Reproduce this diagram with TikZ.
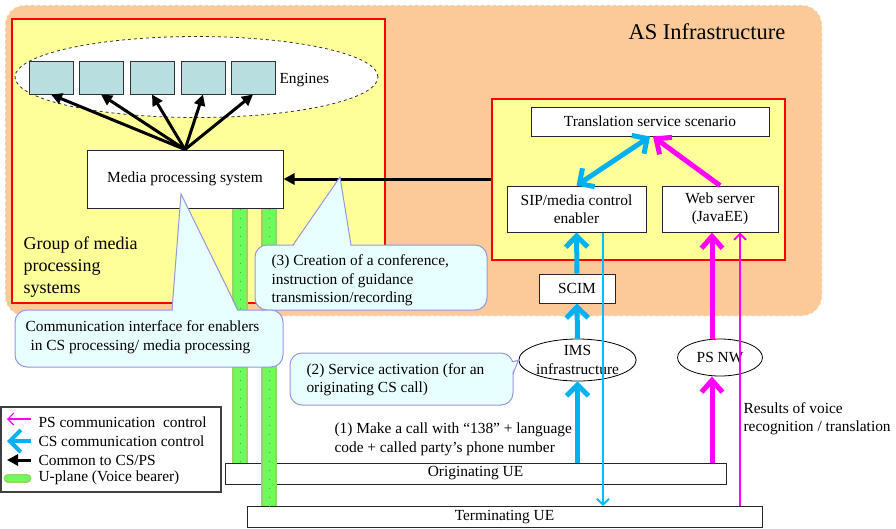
\documentclass[tikz,border=0pt]{standalone}
\usepackage{fontspec}
\setmainfont{Liberation Serif}
\usetikzlibrary{arrows.meta,shapes.geometric}

\definecolor{asorange}{RGB}{252,202,152}
\definecolor{mpyellow}{RGB}{255,255,153}
\definecolor{enginefill}{RGB}{185,222,224}
\definecolor{callfill}{RGB}{232,255,255}
\definecolor{calledge}{RGB}{150,150,228}
\definecolor{csblue}{RGB}{0,176,240}
\definecolor{csthinblue}{RGB}{0,190,250}
\definecolor{psmagenta}{RGB}{255,0,255}
\definecolor{ugreen}{RGB}{110,250,90}
\definecolor{ugreenedge}{RGB}{150,212,100}
\definecolor{ugreendot}{RGB}{70,170,70}

\begin{document}
\begin{tikzpicture}[x=1pt,y=-1pt,
  every node/.style={font=\fontsize{15.4}{18.5}\selectfont},
  box/.style={draw=black!85,fill=white,line width=1pt,align=center,inner sep=0pt},
  redbox/.style={draw=red,line width=2.5pt,fill=mpyellow,inner sep=0pt},
  engine/.style={draw=black!80,fill=enginefill,line width=1pt,minimum width=44,minimum height=33,inner sep=0pt},
  cloud/.style={draw=black,line width=0.8pt,ellipse,fill=white,inner sep=0pt,align=center},
  common/.style={line width=3pt,-{Triangle[length=11pt,width=11pt]}},
  cs/.style={line width=5pt,draw=csblue,-{Straight Barb[length=11pt,width=22pt]}},
  csboth/.style={cs,{Straight Barb[length=11pt,width=22pt]}-{Straight Barb[length=11pt,width=22pt]}},
  csthin/.style={line width=1.8pt,draw=csthinblue,-{Straight Barb[length=6pt,width=12pt]}},
  ps/.style={line width=5pt,draw=psmagenta,-{Straight Barb[length=12pt,width=21pt]}},
  psthin/.style={line width=1.8pt,draw=psmagenta,-{Straight Barb[length=6pt,width=12pt]}},
  ubar/.style={line width=12pt,draw=ugreen,preaction={draw=ugreenedge,line width=16pt},
    postaction={draw=ugreendot,line width=1pt,dash pattern=on 1pt off 8pt}},
  balloon/.style={fill=callfill},
  balloonline/.style={draw=calledge,line width=1pt}]
\useasboundingbox (0,0) rectangle (896,528);

% AS infrastructure
\draw[white,dashed,line width=1pt,fill=asorange,rounded corners=20] (5,5) rectangle (822,316);
\node[font=\fontsize{22.5}{26}\selectfont] (astitle) at (707,32) {AS Infrastructure};

% group of media processing systems
\node[redbox,minimum width=373,minimum height=284] (mpgroup) at (198.5,161) {};
\node[anchor=north west,align=left,font=\fontsize{18}{22}\selectfont] (mptitle) at (20,233) {Group of media\\processing\\systems};
\node[cloud,draw=black!80,dashed,minimum width=363,minimum height=81] (enginepool) at (196.5,77) {};
\node[engine] (eng1) at (51,77.5) {};
\node[engine] (eng2) at (101,77.5) {};
\node[engine] (eng3) at (152,77.5) {};
\node[engine] (eng4) at (203,77.5) {};
\node[engine] (eng5) at (253,77.5) {};
\node[anchor=west] (engtext) at (276,80) {Engines};
\node[box,minimum width=196,minimum height=58] (media) at (185,179) {Media processing system};
\foreach \e in {eng1,eng2,eng3,eng4,eng5}
  \draw[common] (media.north) -- (\e.south);

% enablers
\node[redbox,minimum width=293,minimum height=161] (asbox) at (638.5,179.5) {};
\node[box,minimum width=238,minimum height=29] (transl) at (650,121.5) {Translation service scenario};
\node[box,minimum width=139,minimum height=46] (sip) at (576.5,209) {SIP/media control\\enabler};
\node[box,minimum width=116,minimum height=46] (web) at (720,209) {Web server\\(JavaEE)};
\node[box,minimum width=76,minimum height=29] (scim) at (577,288.5) {SCIM};
\draw[common] (media.east -| asbox.west) -- (media.east);
\draw[csboth] (sip.north) -- (transl.south);
\draw[ps] (web.north) -- ([xshift=3]transl.south);

% networks and terminals
\node[cloud,minimum width=109,minimum height=42] (ims) at (577.5,360) {IMS\\infrastructure};
\node[cloud,minimum width=85,minimum height=37] (psnw) at (720,357.5) {PS NW};
\node[box,minimum width=501,minimum height=21] (orig) at (475.5,473.5) {Originating UE};
\node[box,minimum width=515,minimum height=21] (term) at (504.5,517) {Terminating UE};

\draw[cs] (scim.north) -- (sip.south);
\draw[cs] (ims.north) -- (scim.south);
\draw[cs] (ims.south |- orig.north) -- (ims.south);
\draw[csthin] ([xshift=26.5]sip.south) -- ([xshift=26.5]sip.south |- term.north);
\draw[ps] ([xshift=-8]psnw.south |- orig.north) -- ([xshift=-8]psnw.south);
\draw[ps] ([xshift=-8]psnw.north) -- ([xshift=-8]web.south);
\draw[psthin] ([xshift=20]web.south |- term.north) -- ([xshift=20]web.south);

% U-plane
\draw[ubar] ([xshift=55]media.south) -- ([xshift=55]media.south |- orig.north);
\draw[ubar] ([xshift=84]media.south) -- ([xshift=84]media.south |- term.north);

% callouts
\coordinate (conftip) at (340,177);
\fill[balloon,rounded corners=12] (255,245) rectangle (487,310);
\draw[balloonline,rounded corners=12] (255,245) rectangle (487,310);
\fill[balloon] (293.5,246.5) -- (conftip) -- (350.5,246.5) -- cycle;
\draw[balloonline] (293,245) -- (conftip) -- (351,245);
\node[anchor=west,align=left] (conftext) at (268,280.5) {(3) Creation of a conference,\\instruction of guidance\\transmission/recording};

\coordinate (ciftip) at (181,194);
\fill[balloon,rounded corners=12] (15,310) rectangle (283,367);
\draw[balloonline,rounded corners=12] (15,310) rectangle (283,367);
\fill[balloon] (172.5,311.5) -- (ciftip) -- (237.5,311.5) -- cycle;
\draw[balloonline] (172,310) -- (ciftip) -- (238,310);
\node[anchor=west,align=left] (ciftext) at (22,337) {Communication interface for enablers\\\hspace{5pt}in CS processing/ media processing};

\coordinate (acttip) at (ims.west);
\fill[balloon,rounded corners=12] (290,353) rectangle (513,405);
\draw[balloonline,rounded corners=12] (290,353) rectangle (513,405);
\fill[balloon] (511.5,362.5) -- (acttip) -- (511.5,373.5) -- cycle;
\draw[balloonline] (513,362) -- (acttip) -- (513,374);
\node[anchor=west,align=left] (acttext) at (303,379.5) {(2) Service activation (for an\\originating CS call)};

% free texts
\node[anchor=west,align=left] (calltext) at (331,439.5) {(1) Make a call with “138” + language\\code + called party’s phone number};
\node[anchor=west,align=left] (restext) at (740,418.5) {Results of voice\\recognition / translation};

% legend
\node[draw=black!75,line width=1.2pt,minimum width=220,minimum height=85,inner sep=0pt] (legend) at (111,449.5) {};
\node[anchor=west] (lgps) at (35,422) {PS communication\ \ control};
\node[anchor=west] (lgcs) at (35,441) {CS communication control};
\node[anchor=west] (lgcommon) at (35,460) {Common to CS/PS};
\node[anchor=west] (lguplane) at (35,478) {U-plane (Voice bearer)};
\draw[psthin,line width=1.2pt] (lgps.west) ++(-4,-3) -- ++(-24,0);
\draw[cs,line width=4pt] (lgcs.west) ++(-4,0) -- ++(-24,0);
\draw[common] (lgcommon.west) ++(-4,0) -- ++(-24,0);
\draw[line width=6pt,draw=ugreen,line cap=round,preaction={draw=ugreenedge,line width=9pt,line cap=round}] (lguplane.west) ++(-8,0) -- ++(-19,0);
\end{tikzpicture}
\end{document}
